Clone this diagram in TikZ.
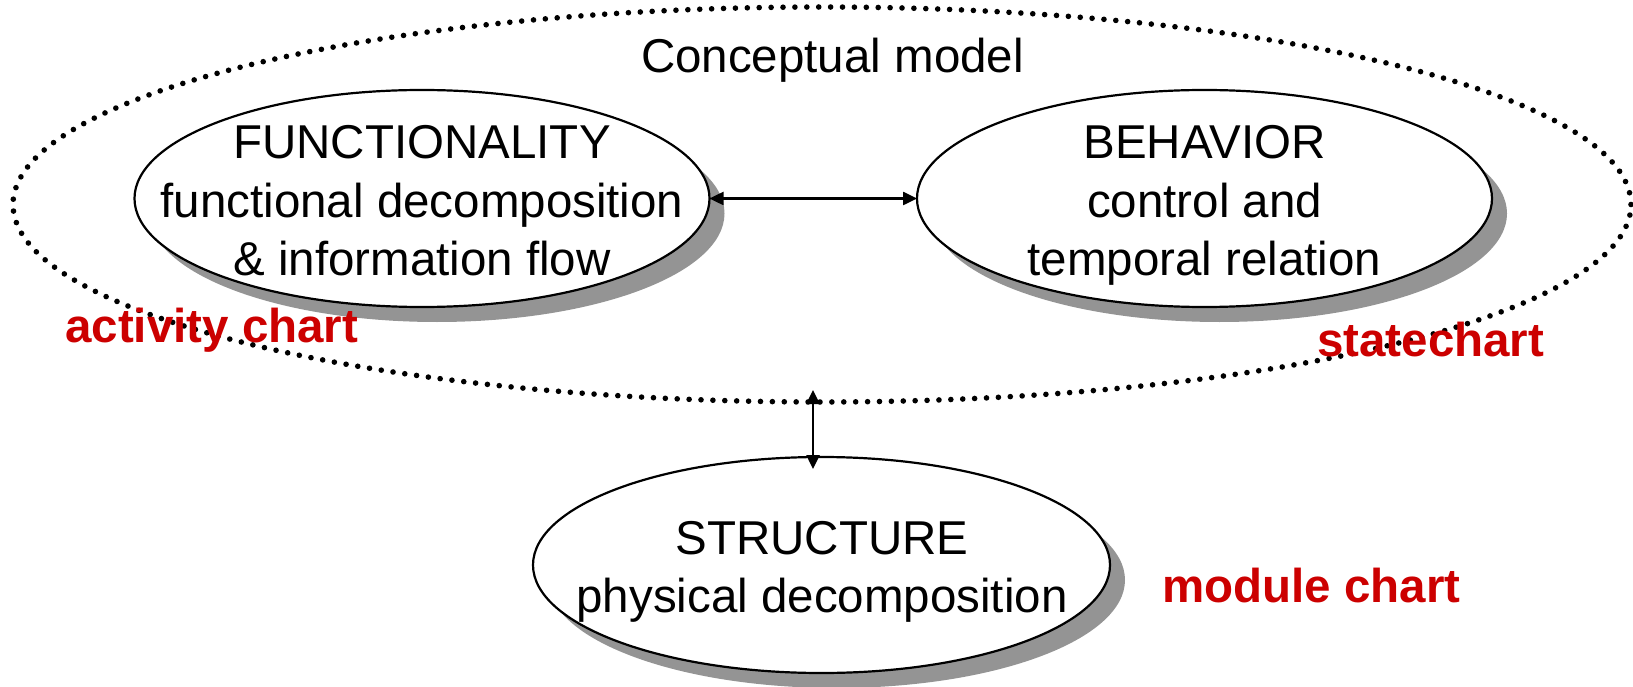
\documentclass[tikz,border=0pt]{standalone}
\usepackage{fontspec}
\setmainfont{Liberation Sans}
\usetikzlibrary{shapes.geometric,arrows.meta,shadows}
\definecolor{shadowgray}{RGB}{148,148,148}
\definecolor{chartred}{RGB}{204,0,0}
\begin{document}
\begin{tikzpicture}[x=1pt,y=-1pt,
  bigfont/.style={font=\fontsize{47.5}{58}\selectfont},
  outerdots/.style={ellipse, draw=black, line width=5.6pt, dash pattern=on 0pt off 11.9pt,
    line cap=round, minimum width=1618pt, minimum height=395pt, inner sep=0pt, outer sep=0pt},
  oval/.style={ellipse, draw=black, line width=2.2pt, fill=white, minimum width=575pt,
    minimum height=217pt, inner sep=0pt, outer sep=0pt,
    drop shadow={shadow xshift=15pt, shadow yshift=-15pt, fill=shadowgray, opacity=1}},
  textblock/.style={bigfont, align=center, inner sep=0pt, anchor=center},
  redlabel/.style={font=\fontsize{47.5}{58}\selectfont\bfseries, text=chartred,
    anchor=base west, inner sep=0pt},
  biarrow/.style={{Triangle[length=14pt,width=13pt]}-{Triangle[length=14pt,width=13pt]},
    line width=2.5pt}
]
\useasboundingbox (0,0) rectangle (1633,687);

% outer dotted ellipse
\node[outerdots] (cm) at (822,204.5) {};
\node[bigfont, anchor=base, inner sep=0pt] (cmtext) at (832.5,73) {Conceptual model};

% ellipses
\node[oval] (func) at (422,198.5) {};
\node[oval] (beh) at (1204.5,198.5) {};
\node[oval, minimum height=216pt, minimum width=577pt] (struct) at (821.5,565) {};

% texts
\node[textblock] (functext) at (422,205.4)
  {FUNCTIONALITY\strut\\functional decomposition\strut\\\& information flow\strut};
\node[textblock] (behtext) at (1204.5,205.4)
  {BEHAVIOR\strut\\control and\strut\\temporal relation\strut};
\node[textblock] (structtext) at (822,571.4)
  {STRUCTURE\strut\\physical decomposition\strut};

% connectors
\draw[biarrow] (func.east) -- (beh.west);
\draw[biarrow] ([xshift=-9pt,yshift=12pt]cm.south) -- ([xshift=-8.5pt,yshift=-12pt]struct.north);

% red labels
\node[redlabel] (act) at (65,342) {activity chart};
\node[redlabel] (state) at (1317,356) {statechart};
\node[redlabel] (mod) at (1162,602) {module chart};
\end{tikzpicture}
\end{document}
